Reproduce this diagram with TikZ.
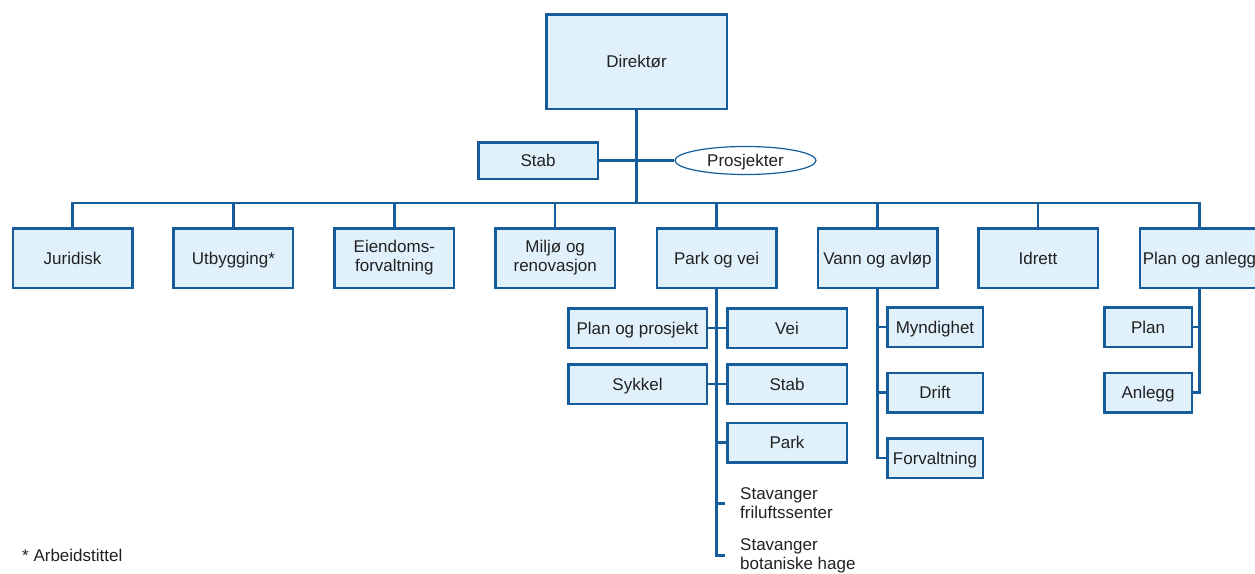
\documentclass[tikz,border=0pt]{standalone}
\usepackage{fontspec}
\setmainfont{Liberation Sans}
\usetikzlibrary{shapes.geometric}
\definecolor{orgline}{RGB}{22,92,155}
\definecolor{orgfill}{RGB}{225,241,251}
\definecolor{orgtext}{RGB}{33,33,33}
\begin{document}
\begin{tikzpicture}[x=1pt,y=-1pt,
  every node/.style={text=orgtext, font=\fontsize{17}{19}\selectfont},
  oneline/.style={text height=15pt, text depth=3pt},
  unit/.style={draw=orgline, fill=orgfill, line width=2.5pt, inner sep=0pt, align=center},
  topunit/.style={unit, minimum width=119.5pt, minimum height=59.5pt},
  subunit/.style={unit, oneline, minimum height=39.5pt},
  plain/.style={inner xsep=15pt, inner ysep=0pt, align=left, anchor=west},
  link/.style={draw=orgline, line width=2.5pt}]
\useasboundingbox (0,0) rectangle (1255,573);

% management level
\node[unit, oneline, minimum width=180.5pt, minimum height=94.5pt] (dir) at (636.5,61.5) {Direktør};
\node[unit, oneline, minimum width=119.5pt, minimum height=36.5pt] (stab) at (538,160.5) {Stab};
\node[ellipse, draw=orgline, line width=1.2pt, fill=white, inner sep=0pt, oneline,
      minimum width=141pt, minimum height=28pt] (prosj) at (745.5,160.5) {Prosjekter};
\coordinate (bus) at (636.5,203);

% departments
\node[topunit, oneline] (jur) at (72.5,258) {Juridisk};
\node[topunit, oneline] (utb) at (233.4,258) {Utbygging*};
\node[topunit] (eie) at (394.3,258) {Eiendoms-\\forvaltning};
\node[topunit] (mil) at (555.2,258) {Miljø og\\renovasjon};
\node[topunit, oneline] (pv)  at (716.6,258) {Park og vei};
\node[topunit, oneline] (va)  at (877.5,258) {Vann og avløp};
\node[topunit, oneline] (idr) at (1038,258) {Idrett};
\node[topunit, oneline] (pa)  at (1199.5,258) {Plan og anlegg};

% Park og vei sections
\node[subunit, minimum width=138.5pt] (pp)   at (637.5,328) {Plan og prosjekt};
\node[subunit, minimum width=119.5pt] (vei)  at (787,328) {Vei};
\node[subunit, minimum width=138.5pt] (syk)  at (637.5,384) {Sykkel};
\node[subunit, minimum width=119.5pt] (stb2) at (787,384) {Stab};
\node[subunit, minimum width=119.5pt] (park) at (787,442.5) {Park};
\node[plain] (fri)  at (725,503.5) {Stavanger\\friluftssenter};
\node[plain] (hage) at (725,555.5) {Stavanger\\botaniske hage};

% Vann og avløp sections
\node[subunit, minimum width=95.5pt] (myn)  at (935,327) {Myndighet};
\node[subunit, minimum width=95.5pt] (dri)  at (935,392.5) {Drift};
\node[subunit, minimum width=95.5pt] (forv) at (935,458) {Forvaltning};

% Plan og anlegg sections
\node[subunit, minimum width=87.5pt] (plan) at (1148,327) {Plan};
\node[subunit, minimum width=87.5pt] (anl)  at (1148,392.5) {Anlegg};

\node[anchor=west, inner sep=0pt] (note) at (22,555) {* Arbeidstittel};

% connectors
\draw[link] (dir.south) -- (bus);
\draw[link] (stab.east) -- (prosj.west);
\draw[link] (jur.north) |- (bus) -| (pa.north);
\foreach \u in {utb,eie,mil,pv,va,idr}
  \draw[link] (\u.north) -- (\u.north |- bus);

\draw[link] (pv.south) |- (hage.west);
\draw[link] (pp.east) -- (vei.west);
\draw[link] (syk.east) -- (stb2.west);
\draw[link] (pv.south |- park.west) -- (park.west);
\draw[link] (pv.south |- fri.west) -- (fri.west);

\draw[link] (va.south) |- (forv.west);
\draw[link] (va.south |- myn.west) -- (myn.west);
\draw[link] (va.south |- dri.west) -- (dri.west);

\draw[link] (pa.south) |- (anl.east);
\draw[link] (pa.south |- plan.east) -- (plan.east);
\end{tikzpicture}
\end{document}
